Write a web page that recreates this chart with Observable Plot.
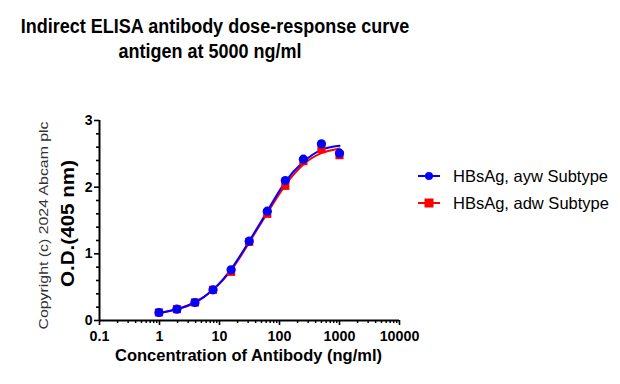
<!DOCTYPE html>
<html>
<head>
<meta charset="utf-8">
<script src="https://cdn.jsdelivr.net/npm/d3@7"></script>
<script src="https://cdn.jsdelivr.net/npm/@observablehq/plot@0.6"></script>
<style>
  html, body { margin: 0; padding: 0; background: #fff; }
  #wrap { position: relative; width: 620px; height: 384px; font-family: "Liberation Sans", Arial, sans-serif; }
  #wrap svg { position: absolute; left: 0; top: 0; }
  .title { position: absolute; left: 0; width: 430px; text-align: center; font-weight: bold; font-size: 18px; color: #000; white-space: nowrap; transform: scaleY(1.08); }
</style>
</head>
<body>
<div id="wrap">
  <div class="title" id="t1" style="top:17px">Indirect ELISA antibody dose-response curve</div>
  <div class="title" id="t2" style="top:42px; left:-5px">antigen at 5000 ng/ml</div>
</div>
<script>
// ---- data ----
const concentrations = [0.98, 1.95, 3.9, 7.8, 15.6, 31.25, 62.5, 125, 250, 500, 1000];
const aywValues = [0.12, 0.17, 0.27, 0.46, 0.76, 1.19, 1.64, 2.10, 2.42, 2.65, 2.51];
const adwValues = [0.12, 0.17, 0.27, 0.46, 0.73, 1.18, 1.60, 2.02, 2.39, 2.57, 2.48];
// fitted curves
const aywFit = [0.11, 0.17, 0.27, 0.46, 0.77, 1.19, 1.64, 2.08, 2.38, 2.56, 2.62];
const adwFit = [0.11, 0.17, 0.27, 0.46, 0.75, 1.17, 1.61, 2.03, 2.34, 2.51, 2.58];
const seriesNames = ["HBsAg, ayw Subtype", "HBsAg, adw Subtype"];
const seriesColors = ["#0000ff", "#ff0000"];
const seriesSymbols = ["circle", "square"];
const xTicks = [0.1, 1, 10, 100, 1000, 10000];
const xTickLabels = ["0.1", "1", "10", "100", "1000", "10000"];
const yTicks = [0, 1, 2, 3];
const yTickLabels = ["0", "1", "2", "3"];
const yMinorTicks = [0.2, 0.4, 0.6, 0.8, 1.2, 1.4, 1.6, 1.8, 2.2, 2.4, 2.6, 2.8];
const minorMultipliers = [2, 3, 4, 5, 6, 7, 8, 9];
const xTitle = "Concentration of Antibody (ng/ml)";
const yTitle = "O.D.(405 nm)";
const copyright = "Copyright (c) 2024 Abcam plc";

const ayw = concentrations.map((c, i) => ({c, v: aywValues[i]}));
const adw = concentrations.map((c, i) => ({c, v: adwValues[i]}));
const aywCurve = concentrations.map((c, i) => ({c, v: aywFit[i]}));
const adwCurve = concentrations.map((c, i) => ({c, v: adwFit[i]}));
const xMinor = xTicks.slice(0, -1).flatMap(d => minorMultipliers.map(m => d * m));

const font = "Liberation Sans, Arial, sans-serif";
const chart = Plot.plot({
  width: 620,
  height: 384,
  marginLeft: 99,
  marginRight: 221,
  marginTop: 120,
  marginBottom: 64,
  style: {fontFamily: font, background: "transparent", overflow: "visible"},
  x: {type: "log", domain: [0.1, 10000]},
  y: {domain: [0, 3]},
  marks: [
    Plot.axisY(yTicks, {tickSize: 5, tickPadding: 2, fontSize: 14, fontWeight: "bold", strokeWidth: 1.6, label: null, fill: "#000",
      tickFormat: d => yTickLabels[yTicks.indexOf(d)]}),
    Plot.axisY(yMinorTicks, {tickSize: 3, text: null, strokeWidth: 1.6, label: null}),
    Plot.axisX(xTicks, {tickSize: 5, tickPadding: 5, fontSize: 14.3, fontWeight: "bold", strokeWidth: 1.6, label: null, fill: "#000",
      tickFormat: d => xTickLabels[xTicks.indexOf(d)]}),
    Plot.axisX(xMinor, {tickSize: 3, text: null, strokeWidth: 1.4, label: null}),
    Plot.ruleX([0.1], {y1: 0, y2: 3, strokeWidth: 2, stroke: "#000"}),
    Plot.ruleY([0], {x1: 0.1, x2: 10000, strokeWidth: 2, stroke: "#000"}),
    Plot.text([yTitle], {frameAnchor: "left", dx: -31, dy: 3, rotate: -90, textAnchor: "middle", fontSize: 17.5, fontWeight: "bold", fill: "#000"}),
    Plot.text([copyright], {frameAnchor: "left", dx: -56, dy: 5, rotate: -90, textAnchor: "middle", fontSize: 13, fill: "#333"}),
    Plot.text([xTitle], {frameAnchor: "bottom", dx: -1, dy: 40, fontSize: 16.5, fontWeight: "bold", fill: "#000"}),
    Plot.line(adwCurve, {x: "c", y: "v", stroke: seriesColors[1], strokeWidth: 2, curve: "natural"}),
    Plot.line(aywCurve, {x: "c", y: "v", stroke: seriesColors[0], strokeWidth: 2, curve: "natural"}),
    Plot.dot(adw, {x: "c", y: "v", symbol: "square", r: 4.6, fill: seriesColors[1]}),
    Plot.dot(ayw, {x: "c", y: "v", symbol: "circle", r: 4.6, fill: seriesColors[0]})
  ]
});
const wrap = document.getElementById("wrap");
wrap.insertBefore(chart, wrap.firstChild);

// the reference's rotated labels are drawn taller than their font; stretch along their length
const stretch = {[yTitle]: 127, [copyright]: 208};
d3.select(chart).selectAll("text").each(function () {
  const t = this.textContent;
  if (stretch[t]) {
    d3.select(this).attr("textLength", stretch[t]).attr("lengthAdjust", "spacingAndGlyphs");
  }
});

// legend
const leg = d3.select(wrap).append("svg").attr("width", 620).attr("height", 384)
  .style("position", "absolute").style("left", 0).style("top", 0);
seriesNames.forEach((name, i) => {
  const cy = 176 + i * 27;
  const g = leg.append("g");
  g.append("line").attr("x1", 418).attr("x2", 440).attr("y1", cy).attr("y2", cy)
    .attr("stroke", seriesColors[i]).attr("stroke-width", 2);
  if (seriesSymbols[i] === "circle") {
    g.append("circle").attr("cx", 429).attr("cy", cy).attr("r", 4).attr("fill", seriesColors[i]);
  } else {
    g.append("rect").attr("x", 424.5).attr("y", cy - 4.5).attr("width", 9).attr("height", 9).attr("fill", seriesColors[i]);
  }
  g.append("text").attr("x", 453).attr("y", cy + 6).attr("font-size", 16.5)
    .attr("font-family", font).attr("fill", "#000").text(name);
});
</script>
</body>
</html>
